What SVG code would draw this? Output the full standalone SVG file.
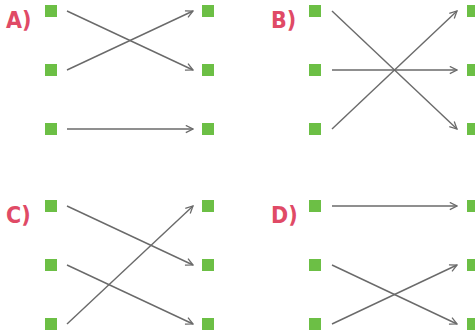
<svg xmlns="http://www.w3.org/2000/svg" width="475" height="336" viewBox="0 0 475 336">
<defs>
<style>
.n{fill:#6cbf45}
.lbl{font-family:"DejaVu Sans Condensed","DejaVu Sans",sans-serif;font-stretch:condensed;font-weight:bold;font-size:23px;fill:#e04a66}
.c line{stroke:#6a6a6a;stroke-width:1.4;fill:none;marker-end:url(#ah)}
</style>
<marker id="ah" viewBox="0 0 10 10" refX="9" refY="5" markerWidth="9" markerHeight="9" markerUnits="userSpaceOnUse" orient="auto">
<path d="M1,1 L9,5 L1,9" fill="none" stroke="#6a6a6a" stroke-width="1.4"/>
</marker>
</defs>
<rect width="475" height="336" fill="#fff"/>
<g id="label-A"><text class="lbl" x="6" y="28">A)</text></g>
<g id="label-B"><text class="lbl" x="271" y="28">B)</text></g>
<g id="label-C"><text class="lbl" x="6" y="223">C)</text></g>
<g id="label-D"><text class="lbl" x="271" y="223">D)</text></g>
<g id="A-l1"><rect class="n" x="45" y="5" width="12" height="12"/></g>
<g id="A-l2"><rect class="n" x="45" y="64" width="12" height="12"/></g>
<g id="A-l3"><rect class="n" x="45" y="123" width="12" height="12"/></g>
<g id="A-r1"><rect class="n" x="202" y="5" width="12" height="12"/></g>
<g id="A-r2"><rect class="n" x="202" y="64" width="12" height="12"/></g>
<g id="A-r3"><rect class="n" x="202" y="123" width="12" height="12"/></g>
<g id="B-l1"><rect class="n" x="309" y="5" width="12" height="12"/></g>
<g id="B-l2"><rect class="n" x="309" y="64" width="12" height="12"/></g>
<g id="B-l3"><rect class="n" x="309" y="123" width="12" height="12"/></g>
<g id="B-r1"><rect class="n" x="467" y="5" width="12" height="12"/></g>
<g id="B-r2"><rect class="n" x="467" y="64" width="12" height="12"/></g>
<g id="B-r3"><rect class="n" x="467" y="123" width="12" height="12"/></g>
<g id="C-l1"><rect class="n" x="45" y="200" width="12" height="12"/></g>
<g id="C-l2"><rect class="n" x="45" y="259" width="12" height="12"/></g>
<g id="C-l3"><rect class="n" x="45" y="318" width="12" height="12"/></g>
<g id="C-r1"><rect class="n" x="202" y="200" width="12" height="12"/></g>
<g id="C-r2"><rect class="n" x="202" y="259" width="12" height="12"/></g>
<g id="C-r3"><rect class="n" x="202" y="318" width="12" height="12"/></g>
<g id="D-l1"><rect class="n" x="309" y="200" width="12" height="12"/></g>
<g id="D-l2"><rect class="n" x="309" y="259" width="12" height="12"/></g>
<g id="D-l3"><rect class="n" x="309" y="318" width="12" height="12"/></g>
<g id="D-r1"><rect class="n" x="467" y="200" width="12" height="12"/></g>
<g id="D-r2"><rect class="n" x="467" y="259" width="12" height="12"/></g>
<g id="D-r3"><rect class="n" x="467" y="318" width="12" height="12"/></g>
<g id="connectors" class="c">
<line x1="67" y1="11" x2="193" y2="70"/>
<line x1="67" y1="70" x2="193" y2="11"/>
<line x1="67" y1="129" x2="193" y2="129"/>
<line x1="332" y1="11" x2="457" y2="129"/>
<line x1="332" y1="70" x2="457" y2="70"/>
<line x1="332" y1="129" x2="457" y2="11"/>
<line x1="67" y1="206" x2="193" y2="265"/>
<line x1="67" y1="265" x2="193" y2="324"/>
<line x1="67" y1="324" x2="193" y2="206"/>
<line x1="332" y1="206" x2="457" y2="206"/>
<line x1="332" y1="265" x2="457" y2="324"/>
<line x1="332" y1="324" x2="457" y2="265"/>
</g>
</svg>
